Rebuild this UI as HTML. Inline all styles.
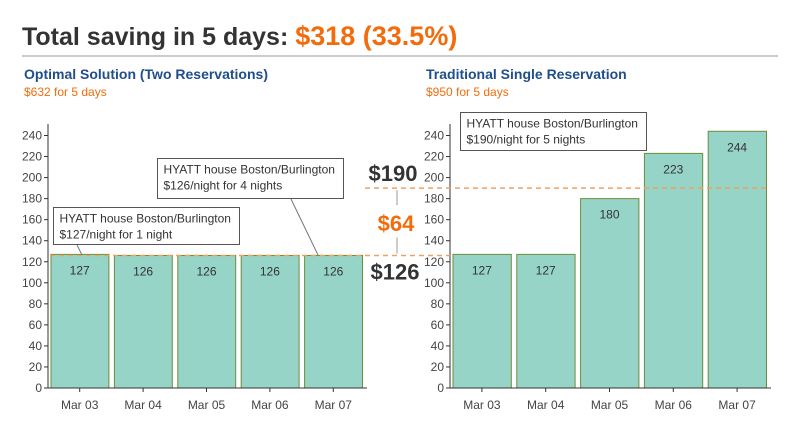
<!DOCTYPE html>
<html><head><meta charset="utf-8"><style>
body{margin:0;background:#fff;font-family:"Liberation Sans",sans-serif;}
svg text{font-family:"Liberation Sans",sans-serif;}
</style></head><body>
<svg id="c" width="800" height="438" viewBox="0 0 800 438">
<text x="22" y="45" font-size="25" font-weight="bold" fill="#333">Total saving in 5 days: <tspan fill="#f26c0d" font-size="27">$318 (33.5%)</tspan></text>
<line x1="22" y1="56" x2="778" y2="56" stroke="#999"/>
<text x="24" y="79" font-size="14" font-weight="bold" fill="#1f4e8c">Optimal Solution (Two Reservations)</text>
<text x="24" y="96" font-size="12" fill="#f26c0d">$632 for 5 days</text>
<text x="426" y="79" font-size="14" font-weight="bold" fill="#1f4e8c">Traditional Single Reservation</text>
<text x="426" y="96" font-size="12" fill="#f26c0d">$950 for 5 days</text>
<g id="g"></g>
</svg>
<script>
const categories=["Mar 03","Mar 04","Mar 05","Mar 06","Mar 07"];
const optimalValues=[127,126,126,126,126];
const traditionalValues=[127,127,180,223,244];
const yTicks=[0,20,40,60,80,100,120,140,160,180,200,220,240];
const lowRate=[126];
const highRate=[190];
const NS="http://www.w3.org/2000/svg";
const g=document.getElementById('g');
const y0=388, k=252.5/240;
function y(v){return y0-v*k;}
function mk(t,a,txt){const e=document.createElementNS(NS,t);for(const n in a)e.setAttribute(n,a[n]);if(txt!==undefined)e.textContent=txt;g.appendChild(e);return e;}
function chart(x0,x1,vals,prefix){
  const bw=(x1-x0)/categories.length;
  vals.forEach((v,i)=>{
    const r=mk('rect',{x:x0+i*bw+3,y:y(v),width:bw-5.5,height:y0-y(v),fill:'#96d4c8',stroke:'#6b8e3a','stroke-width':1});
    
    
    const t=mk('text',{x:x0+i*bw+bw/2,y:y(v)+20,'font-size':12,fill:'#333','text-anchor':'middle'},v);
    
    
    const tk=mk('line',{x1:x0+i*bw+bw/2,x2:x0+i*bw+bw/2,y1:y0,y2:y0+4,stroke:'#333'});
    
    
    const xl=mk('text',{x:x0+i*bw+bw/2,y:y0+21,'font-size':12,fill:'#444','text-anchor':'middle'},categories[i]);
    
    
  });
  yTicks.forEach(v=>{
    const l=mk('line',{x1:x0-4,x2:x0,y1:y(v),y2:y(v),stroke:'#333'});
    
    
    const t=mk('text',{x:x0-6,y:y(v)+4,'font-size':12,fill:'#444','text-anchor':'end'},v);
    
    
  });
  const ya=mk('line',{x1:x0,x2:x0,y1:124,y2:y0,stroke:'#333'});
  
  
  const xa=mk('line',{x1:x0-3,x2:x1+2,y1:y0,y2:y0,stroke:'#333'});
  
  
}
chart(48,365,optimalValues,'optimal');
chart(450,769,traditionalValues,'traditional');
const d1=mk('line',{x1:50,x2:450,y1:y(lowRate[0]),y2:y(lowRate[0]),stroke:'#f0a060','stroke-width':1.5,'stroke-dasharray':'5,4'});


const d2=mk('line',{x1:365,x2:769,y1:y(highRate[0]),y2:y(highRate[0]),stroke:'#f0a060','stroke-width':1.5,'stroke-dasharray':'5,4'});


const t190=mk('text',{x:393,y:y(highRate[0])-7,'font-size':22,'font-weight':'bold',fill:'#333','text-anchor':'middle'},'$'+highRate[0]);


const t126=mk('text',{x:395,y:y(lowRate[0])+24,'font-size':22,'font-weight':'bold',fill:'#333','text-anchor':'middle'},'$'+lowRate[0]);


const t64=mk('text',{x:396,y:(y(lowRate[0])+y(highRate[0]))/2+9,'font-size':22,'font-weight':'bold',fill:'#f26c0d','text-anchor':'middle'},'$'+(highRate[0]-lowRate[0]));


const a1=mk('line',{x1:397,x2:397,y1:y(highRate[0])+2,y2:y(highRate[0])+17,stroke:'#999'});


const a2=mk('line',{x1:397,x2:397,y1:y(lowRate[0])-18,y2:y(lowRate[0])-2,stroke:'#999'});


function box(x,yy,w,h,l1,l2,name){
  const r=mk('rect',{x:x,y:yy,width:w,height:h,fill:'#fff',stroke:'#555'});
  
  
  const a=mk('text',{x:x+6,y:yy+15,'font-size':12,fill:'#333'},l1);
  
  
  const b=mk('text',{x:x+6,y:yy+31,'font-size':12,fill:'#333'},l2);
  
  
}
const ll1=mk('line',{x1:77,y1:245,x2:82,y2:255,stroke:'#777'});


const ll2=mk('line',{x1:291,y1:199,x2:318,y2:255,stroke:'#777'});


box(53.5,207.5,186,37,'HYATT house Boston/Burlington','$127/night for 1 night','annotation-one-night');
box(157.5,158.5,186,40,'HYATT house Boston/Burlington','$126/night for 4 nights','annotation-four-nights');
box(460.5,112.5,186,38,'HYATT house Boston/Burlington','$190/night for 5 nights','annotation-five-nights');
</script>
</body></html>
